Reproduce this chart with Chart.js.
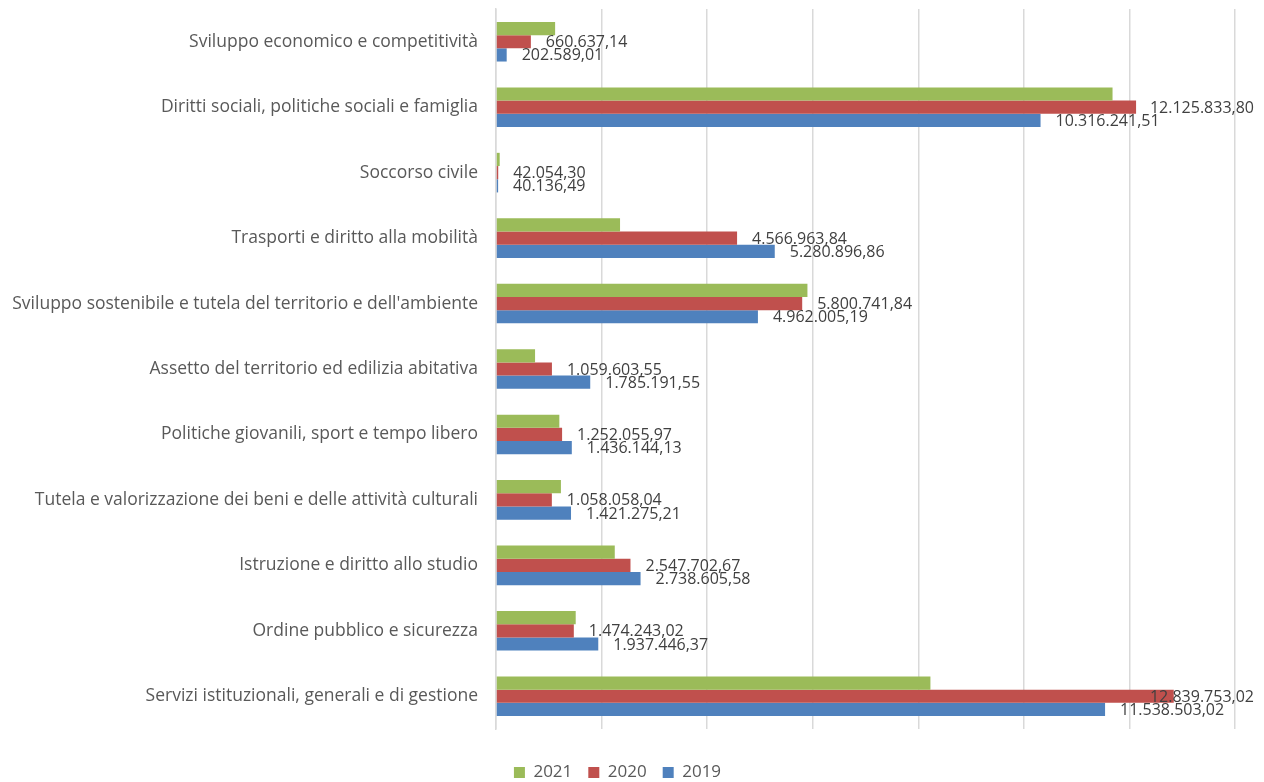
<!DOCTYPE html>
<html>
<head>
<meta charset="utf-8">
<script src="https://cdn.jsdelivr.net/npm/chart.js@4.4.1/dist/chart.umd.min.js"></script>
<style>
    html, body { margin: 0; padding: 0; background: #fff; }
    #wrap { width: 1264px; height: 782px; }
</style>
</head>
<body>
<div id="wrap"><canvas id="spesaChart"></canvas></div>
<script>
// Categories (top to bottom)
const categories = [
    'Sviluppo economico e competitività',
    'Diritti sociali, politiche sociali e famiglia',
    'Soccorso civile',
    'Trasporti e diritto alla mobilità',
    "Sviluppo sostenibile e tutela del territorio e dell'ambiente",
    'Assetto del territorio ed edilizia abitativa',
    'Politiche giovanili, sport e tempo libero',
    'Tutela e valorizzazione dei beni e delle attività culturali',
    'Istruzione e diritto allo studio',
    'Ordine pubblico e sicurezza',
    'Servizi istituzionali, generali e di gestione'
];

// 2021 has no labels in the picture: values
const values2021 = [1120000, 11680000, 70000, 2350000, 5900000, 740000, 1200000, 1230000, 2250000, 1510000, 8230000];
const values2020 = [660637.14, 12125833.80, 42054.30, 4566963.84, 5800741.84, 1059603.55, 1252055.97, 1058058.04, 2547702.67, 1474243.02, 12839753.02];
const values2019 = [202589.01, 10316241.51, 40136.49, 5280896.86, 4962005.19, 1785191.55, 1436144.13, 1421275.21, 2738605.58, 1937446.37, 11538503.02];

const seriesLabels = ['2021', '2020', '2019'];
const seriesColors = ['#9BBB59', '#C0504D', '#4F81BD'];

const axisMax = 14000000;
const axisStep = 2000000;

const fontFamily = '"Open Sans", "Liberation Sans", Arial, sans-serif';

// Italian number format: 12.125.833,80
function formatIt(v) {
    const parts = v.toFixed(2).split('.');
    const intPart = parts[0].replace(/\B(?=(\d{3})+(?!\d))/g, '.');
    return intPart + ',' + parts[1];
}

// Value labels for 2020 and 2019, just past the bar end
const barLabels = {
    id: 'barLabels',
    afterDatasetsDraw(chart) {
        const ctx = chart.ctx;
        const rightLimit = 1254;
        ctx.save();
        ctx.font = '16px ' + fontFamily;
        ctx.fillStyle = '#404040';
        ctx.textBaseline = 'middle';
        ctx.textAlign = 'left';
        [1, 2].forEach(function (di) {
            const meta = chart.getDatasetMeta(di);
            meta.data.forEach(function (bar, i) {
                const txt = formatIt(chart.data.datasets[di].data[i]);
                const w = ctx.measureText(txt).width;
                let x = bar.x + 15;
                if (x + w > rightLimit) x = rightLimit - w;
                ctx.fillText(txt, x, bar.y + 1);
            });
        });
        ctx.restore();
    }
};

const ctx = document.getElementById('spesaChart');

new Chart(ctx, {
    type: 'bar',
    data: {
        labels: categories,
        datasets: seriesLabels.map(function (lbl, i) {
            return {
                label: lbl,
                data: [values2021, values2020, values2019][i],
                backgroundColor: seriesColors[i],
                categoryPercentage: 0.605,
                barPercentage: 1.0
            };
        })
    },
    options: {
        indexAxis: 'y',
        responsive: true,
        maintainAspectRatio: false,
        animation: false,
        layout: {
            padding: { top: 9, left: 0, right: 29, bottom: -9 }
        },
        plugins: {
            legend: {
                position: 'bottom',
                labels: {
                    boxWidth: 11,
                    boxHeight: 11,
                    padding: 16,
                    color: '#595959',
                    font: { family: fontFamily, size: 17 }
                }
            },
            tooltip: { enabled: false }
        },
        scales: {
            x: {
                min: 0,
                max: axisMax,
                afterFit: function (scale) { scale.height = 19; },
                ticks: { display: false, stepSize: axisStep },
                grid: {
                    color: '#D9D9D9',
                    lineWidth: 1.5,
                    drawTicks: false
                },
                border: { display: false }
            },
            y: {
                afterFit: function (scale) {
                    scale.width = 496;
                    scale.paddingTop = 0;
                    scale.paddingBottom = 0;
                },
                ticks: {
                    color: '#595959',
                    padding: 18,
                    font: { family: fontFamily, size: 17.5 }
                },
                grid: { display: false, drawTicks: false },
                border: { display: true, color: '#D9D9D9', width: 1.5 }
            }
        }
    },
    plugins: [barLabels]
});
</script>
</body>
</html>
